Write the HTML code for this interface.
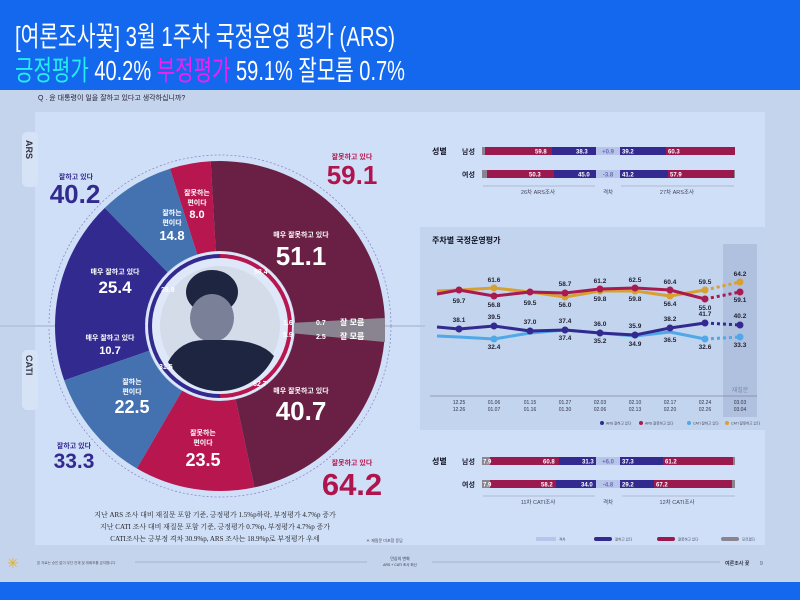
<!DOCTYPE html>
<html><head><meta charset="utf-8"><style>
html,body{margin:0;padding:0;width:800px;height:600px;overflow:hidden;background:#c3d4ec}
svg{display:block;font-family:"Liberation Sans","Noto Sans CJK KR",sans-serif}
</style></head><body>
<svg width="800" height="600" viewBox="0 0 800 600" xmlns="http://www.w3.org/2000/svg">
<rect x="0" y="0" width="800" height="600" fill="#c3d4ec"/>
<rect x="0" y="0" width="800" height="90" fill="#1468ee"/>
<text x="15" y="46" font-size="28" fill="#fff" textLength="380" lengthAdjust="spacingAndGlyphs">[여론조사꽃] 3월 1주차 국정운영 평가 (ARS)</text>
<text x="15" y="80" font-size="28" textLength="390" lengthAdjust="spacingAndGlyphs"><tspan fill="#22eef0">긍정평가</tspan><tspan fill="#fff"> 40.2% </tspan><tspan fill="#f020f0">부정평가</tspan><tspan fill="#fff"> 59.1% 잘모름 0.7%</tspan></text>
<rect x="0" y="582" width="800" height="18" fill="#1468ee"/>
<text x="38" y="100" font-size="7" fill="#223">Q .  윤 대통령이 일을 잘하고 있다고 생각하십니까?</text>
<rect x="35" y="112" width="730" height="433" fill="#cfdff8"/>
<rect x="420" y="227" width="345" height="203" fill="#c2d4ee"/>
<rect x="22" y="132" width="16" height="55" rx="5" fill="#d6e3f7"/>
<text x="0" y="0" font-size="9" font-weight="bold" fill="#334" transform="translate(26,140) rotate(90)">ARS</text>
<rect x="22" y="350" width="16" height="60" rx="5" fill="#d6e3f7"/>
<text x="0" y="0" font-size="9" font-weight="bold" fill="#334" transform="translate(26,355) rotate(90)">CATI</text>
<line x1="0" y1="326" x2="425" y2="326" stroke="#b5c6e0" stroke-width="2"/>
<circle cx="220" cy="326" r="171" fill="none" stroke="#8a7fc0" stroke-width="0.7" stroke-dasharray="2 2"/>
<path d="M55,326 A165,165 0 0 1 104.8,207.9 L167.6,272.3 A75,75 0 0 0 145,326 Z" fill="#332a8f"/>
<path d="M104.8,207.9 A165,165 0 0 1 170,168.8 L197.3,254.5 A75,75 0 0 0 167.6,272.3 Z" fill="#4472b0"/>
<path d="M170,168.8 A165,165 0 0 1 210.7,161.3 L215.8,251.1 A75,75 0 0 0 197.3,254.5 Z" fill="#b8164e"/>
<path d="M210.7,161.3 A165,165 0 0 1 385,322.4 L295,324.3 A75,75 0 0 0 215.8,251.1 Z" fill="#6a1f45"/>
<polygon points="290,323 385,318 385,326 290,326" fill="#8a8490"/>
<path d="M55,326 A165,165 0 0 0 64.2,380.4 L149.2,350.7 A75,75 0 0 1 145,326 Z" fill="#332a8f"/>
<path d="M64.2,380.4 A165,165 0 0 0 136.9,468.5 L182.2,390.8 A75,75 0 0 1 149.2,350.7 Z" fill="#4472b0"/>
<path d="M136.9,468.5 A165,165 0 0 0 254.5,487.4 L235.7,399.3 A75,75 0 0 1 182.2,390.8 Z" fill="#b8164e"/>
<path d="M254.5,487.4 A165,165 0 0 0 384.5,339.5 L294.8,332.1 A75,75 0 0 1 235.7,399.3 Z" fill="#6a1f45"/>
<polygon points="290,326 385,326 385,342 290,333" fill="#8a8490"/>
<line x1="0" y1="326" x2="55" y2="326" stroke="#b5c6e0" stroke-width="2"/>
<circle cx="220" cy="326" r="74" fill="#dfe8f8"/>
<path d="M220,256 A70,70 0 0 0 220,396" fill="none" stroke="#332a8f" stroke-width="4"/>
<path d="M220,256 A70,70 0 0 1 220,396" fill="none" stroke="#b8164e" stroke-width="4"/>
<circle cx="220" cy="326" r="64" fill="#dfe8f8"/>
<circle cx="220" cy="326" r="60" fill="#d4dcea"/>
<ellipse cx="212" cy="292" rx="26" ry="22" fill="#1e2540"/>
<ellipse cx="212" cy="318" rx="22" ry="24" fill="#7a8098"/>
<path d="M168,362 Q180,340 205,340 L225,340 Q260,340 274,356 A60,60 0 0 1 168,362 Z" fill="#1e2540"/>
<text x="254" y="274" font-size="7" fill="#fff" font-weight="bold">58.4</text>
<text x="161" y="292" font-size="7" fill="#fff" font-weight="bold">39.9</text>
<text x="283" y="325" font-size="7" fill="#fff" font-weight="bold">1.6</text>
<text x="283" y="337" font-size="7" fill="#fff" font-weight="bold">5.9</text>
<text x="159" y="369" font-size="7" fill="#fff" font-weight="bold">31.5</text>
<text x="253" y="386" font-size="7" fill="#fff" font-weight="bold">62.7</text>
<text x="316" y="325" font-size="7" fill="#fff" font-weight="bold">0.7</text>
<text x="340" y="325" font-size="8" fill="#fff" font-weight="bold">잘 모름</text>
<text x="316" y="339" font-size="7" fill="#fff" font-weight="bold">2.5</text>
<text x="340" y="339" font-size="8" fill="#fff" font-weight="bold">잘 모름</text>
<g fill="#fff" text-anchor="middle" font-weight="bold">
<text x="172" y="215" font-size="7">잘하는</text><text x="172" y="225" font-size="7">편이다</text><text x="172" y="240" font-size="13">14.8</text>
<text x="197" y="195" font-size="7">잘못하는</text><text x="197" y="205" font-size="7">편이다</text><text x="197" y="218" font-size="11">8.0</text>
<text x="301" y="237" font-size="7">매우 잘못하고 있다</text><text x="301" y="265" font-size="26">51.1</text>
<text x="115" y="274" font-size="7">매우 잘하고 있다</text><text x="115" y="293" font-size="17">25.4</text>
<text x="110" y="340" font-size="7">매우 잘하고 있다</text><text x="110" y="354" font-size="11">10.7</text>
<text x="132" y="384" font-size="7">잘하는</text><text x="132" y="394" font-size="7">편이다</text><text x="132" y="413" font-size="18">22.5</text>
<text x="203" y="435" font-size="7">잘못하는</text><text x="203" y="445" font-size="7">편이다</text><text x="203" y="466" font-size="18">23.5</text>
<text x="301" y="393" font-size="7">매우 잘못하고 있다</text><text x="301" y="420" font-size="26">40.7</text>
</g>
<g text-anchor="middle" font-weight="bold">
<text x="76" y="179" font-size="7" fill="#332a8f">잘하고 있다</text>
<text x="75" y="203" font-size="26" fill="#332a8f">40.2</text>
<text x="352" y="159" font-size="7" fill="#b8164e">잘못하고 있다</text>
<text x="352" y="184" font-size="26" fill="#b0144c">59.1</text>
<text x="74" y="448" font-size="7" fill="#332a8f">잘하고 있다</text>
<text x="74" y="468" font-size="21" fill="#332a8f">33.3</text>
<text x="352" y="465" font-size="7" fill="#b8164e">잘못하고 있다</text>
<text x="352" y="495" font-size="31" fill="#b0144c">64.2</text>
</g>
<g font-size="7" fill="#222" text-anchor="middle" font-family="Liberation Serif, Noto Serif CJK SC, serif">
<text x="215" y="517">지난 ARS 조사 대비 재질문 포함 기준, 긍정평가 1.5%p하락, 부정평가 4.7%p 증가</text>
<text x="215" y="529">지난 CATI 조사 대비 재질문 포함 기준, 긍정평가 0.7%p, 부정평가 4.7%p 증가</text>
<text x="215" y="541">CATI조사는 긍부정 격차 30.9%p, ARS 조사는 18.9%p로 부정평가 우세</text>
</g>
<text x="366" y="542" font-size="4" fill="#445">＊ 재질문 미포함 응답</text>
<g font-size="7" font-weight="bold">
<text x="432" y="154" font-size="8" fill="#112">성별</text>
<text x="462" y="154" fill="#223">남성</text>
<text x="462" y="177" fill="#223">여성</text>
<rect x="482" y="147" width="3" height="8" fill="#8a8490"/>
<rect x="485" y="147" width="67" height="8" fill="#9a1a50"/>
<rect x="552" y="147" width="44" height="8" fill="#332a8f"/>
<rect x="596" y="147" width="24" height="8" fill="#b8c4ea"/>
<rect x="620" y="147" width="46" height="8" fill="#332a8f"/>
<rect x="666" y="147" width="69" height="8" fill="#9a1a50"/>
<rect x="482" y="170" width="5" height="8" fill="#8a8490"/>
<rect x="487" y="170" width="67" height="8" fill="#9a1a50"/>
<rect x="554" y="170" width="42" height="8" fill="#332a8f"/>
<rect x="596" y="170" width="24" height="8" fill="#b8c4ea"/>
<rect x="620" y="170" width="48" height="8" fill="#332a8f"/>
<rect x="668" y="170" width="66" height="8" fill="#9a1a50"/>
<rect x="734" y="170" width="1" height="8" fill="#8a8490"/>
<g font-size="6" fill="#fff">
<text x="535" y="153.5">59.8</text><text x="576" y="153.5">38.3</text><text x="622" y="153.5">39.2</text><text x="668" y="153.5">60.3</text>
<text x="529" y="176.5">50.3</text><text x="578" y="176.5">45.0</text><text x="622" y="176.5">41.2</text><text x="670" y="176.5">57.9</text>
</g>
<text x="608" y="153.5" font-size="6" fill="#6a70b0" text-anchor="middle">+0.9</text>
<text x="608" y="176.5" font-size="6" fill="#6a70b0" text-anchor="middle">-3.8</text>
</g>
<line x1="483" y1="186" x2="595" y2="186" stroke="#8a96b0" stroke-width="0.6"/>
<line x1="621" y1="186" x2="734" y2="186" stroke="#8a96b0" stroke-width="0.6"/>
<g font-size="5.5" fill="#445" text-anchor="middle"><text x="538" y="194">26차 ARS조사</text><text x="608" y="194">격차</text><text x="677" y="194">27차 ARS조사</text></g>
<text x="432" y="243" font-size="8" font-weight="bold" fill="#112">주차별 국정운영평가</text>
<rect x="723" y="244" width="34" height="173" fill="#b0c1e0"/>
<text x="740" y="392" font-size="6" fill="#7a88a8" text-anchor="middle">재질문</text>
<line x1="430" y1="396" x2="757" y2="396" stroke="#667" stroke-width="0.6"/>
<g fill="none" stroke-width="3" stroke-linejoin="round">
<polyline stroke="#d8a030" points="437,291 459,290 494,288 530,292 565,297 600,291 635,291 670,296 705,290"/>
<polyline stroke="#a81a50" points="437,294 459,290 494,296 530,292 565,293 600,289 635,288 670,290 705,299"/>
<polyline stroke="#50a8e8" points="437,336 459,337 494,339 530,333 565,330 600,333 635,336 670,332 705,339"/>
<polyline stroke="#332a8f" points="437,327 459,329 494,326 530,331 565,330 600,333 635,335 670,328 705,323"/>
<g stroke-dasharray="3 3">
<line x1="705" y1="290" x2="740" y2="282" stroke="#d8a030"/>
<line x1="705" y1="299" x2="740" y2="292" stroke="#a81a50"/>
<line x1="705" y1="339" x2="740" y2="337" stroke="#50a8e8"/>
<line x1="705" y1="323" x2="740" y2="325" stroke="#332a8f"/>
</g></g>
<g fill="#d8a030"><circle cx="494" cy="288" r="3.5"/><circle cx="565" cy="297" r="3.5"/><circle cx="600" cy="291" r="3.5"/><circle cx="635" cy="291" r="3.5"/><circle cx="670" cy="296" r="3.5"/><circle cx="705" cy="290" r="3.5"/><circle cx="740" cy="282" r="3.5"/></g>
<g fill="#a81a50"><circle cx="459" cy="290" r="3.5"/><circle cx="494" cy="296" r="3.5"/><circle cx="530" cy="292" r="3.5"/><circle cx="565" cy="293" r="3.5"/><circle cx="600" cy="289" r="3.5"/><circle cx="635" cy="288" r="3.5"/><circle cx="670" cy="290" r="3.5"/><circle cx="705" cy="299" r="3.5"/><circle cx="740" cy="292" r="3.5"/></g>
<g fill="#50a8e8"><circle cx="494" cy="339" r="3.5"/><circle cx="705" cy="339" r="3.5"/><circle cx="740" cy="337" r="3.5"/></g>
<g fill="#332a8f"><circle cx="459" cy="329" r="3.5"/><circle cx="494" cy="326" r="3.5"/><circle cx="530" cy="331" r="3.5"/><circle cx="565" cy="330" r="3.5"/><circle cx="600" cy="333" r="3.5"/><circle cx="635" cy="335" r="3.5"/><circle cx="670" cy="328" r="3.5"/><circle cx="705" cy="323" r="3.5"/><circle cx="740" cy="325" r="3.5"/></g>
<g font-size="6.5" font-weight="bold" fill="#223" text-anchor="middle">
<text x="459" y="303">59.7</text><text x="494" y="307">56.8</text><text x="530" y="305">59.5</text><text x="565" y="286">58.7</text><text x="600" y="283">61.2</text><text x="635" y="282">62.5</text><text x="670" y="284">60.4</text><text x="705" y="310">55.0</text><text x="740" y="302">59.1</text>
<text x="494" y="282">61.6</text><text x="565" y="307">56.0</text><text x="600" y="301">59.8</text><text x="635" y="301">59.8</text><text x="670" y="306">56.4</text><text x="705" y="284">59.5</text><text x="740" y="276">64.2</text>
<text x="459" y="322">38.1</text><text x="494" y="319">39.5</text><text x="530" y="324">37.0</text><text x="565" y="323">37.4</text><text x="600" y="326">36.0</text><text x="635" y="328">35.9</text><text x="670" y="321">38.2</text><text x="705" y="316">41.7</text><text x="740" y="318">40.2</text>
<text x="494" y="349">32.4</text><text x="565" y="340">37.4</text><text x="600" y="343">35.2</text><text x="635" y="346">34.9</text><text x="670" y="342">36.5</text><text x="705" y="349">32.6</text><text x="740" y="347">33.3</text>
</g>
<g font-size="5" fill="#334" text-anchor="middle">
<text x="459" y="404">12.25</text><text x="459" y="411">12.26</text>
<text x="494" y="404">01.06</text><text x="494" y="411">01.07</text>
<text x="530" y="404">01.15</text><text x="530" y="411">01.16</text>
<text x="565" y="404">01.27</text><text x="565" y="411">01.30</text>
<text x="600" y="404">02.03</text><text x="600" y="411">02.06</text>
<text x="635" y="404">02.10</text><text x="635" y="411">02.13</text>
<text x="670" y="404">02.17</text><text x="670" y="411">02.20</text>
<text x="705" y="404">02.24</text><text x="705" y="411">02.26</text>
<text x="740" y="404">03.03</text><text x="740" y="411">03.04</text>
</g>
<g font-size="3.5" fill="#445">
<circle cx="602" cy="423" r="2" fill="#332a8f"/><text x="606" y="424.5">ARS 잘하고 있다</text>
<circle cx="641" cy="423" r="2" fill="#a81a50"/><text x="645" y="424.5">ARS 잘못하고 있다</text>
<circle cx="689" cy="423" r="2" fill="#50a8e8"/><text x="693" y="424.5">CATI 잘하고 있다</text>
<circle cx="727" cy="423" r="2" fill="#d8a030"/><text x="731" y="424.5">CATI 잘못하고 있다</text>
</g>
<g font-size="7" font-weight="bold">
<text x="432" y="464" font-size="8" fill="#112">성별</text>
<text x="462" y="464" fill="#223">남성</text>
<text x="462" y="487" fill="#223">여성</text>
<rect x="482" y="457" width="8" height="8" fill="#8a8490"/>
<rect x="490" y="457" width="69" height="8" fill="#9a1a50"/>
<rect x="559" y="457" width="37" height="8" fill="#332a8f"/>
<rect x="596" y="457" width="24" height="8" fill="#b8c4ea"/>
<rect x="620" y="457" width="43" height="8" fill="#332a8f"/>
<rect x="663" y="457" width="70" height="8" fill="#9a1a50"/>
<rect x="733" y="457" width="2" height="8" fill="#8a8490"/>
<rect x="482" y="480" width="8" height="8" fill="#8a8490"/>
<rect x="490" y="480" width="66" height="8" fill="#9a1a50"/>
<rect x="556" y="480" width="40" height="8" fill="#332a8f"/>
<rect x="596" y="480" width="24" height="8" fill="#b8c4ea"/>
<rect x="620" y="480" width="34" height="8" fill="#332a8f"/>
<rect x="654" y="480" width="78" height="8" fill="#9a1a50"/>
<rect x="732" y="480" width="3" height="8" fill="#8a8490"/>
<g font-size="6" fill="#fff">
<text x="483" y="463.5">7.9</text><text x="543" y="463.5">60.8</text><text x="582" y="463.5">31.3</text><text x="622" y="463.5">37.3</text><text x="665" y="463.5">61.2</text>
<text x="483" y="486.5">7.9</text><text x="541" y="486.5">58.2</text><text x="581" y="486.5">34.0</text><text x="622" y="486.5">29.2</text><text x="656" y="486.5">67.2</text>
</g>
<text x="608" y="463.5" font-size="6" fill="#6a70b0" text-anchor="middle">+6.0</text>
<text x="608" y="486.5" font-size="6" fill="#6a70b0" text-anchor="middle">-4.8</text>
</g>
<line x1="483" y1="496" x2="595" y2="496" stroke="#8a96b0" stroke-width="0.6"/>
<line x1="622" y1="496" x2="735" y2="496" stroke="#8a96b0" stroke-width="0.6"/>
<g font-size="5.5" fill="#445" text-anchor="middle"><text x="538" y="504">11차 CATI조사</text><text x="608" y="504">격차</text><text x="677" y="504">12차 CATI조사</text></g>
<g font-size="3.5" fill="#445">
<rect x="536" y="537" width="20" height="4" fill="#b8c4ea"/><text x="559" y="540.5">격차</text>
<rect x="594" y="537" width="18" height="4" rx="2" fill="#332a8f"/><text x="615" y="540.5">잘하고 있다</text>
<rect x="657" y="537" width="18" height="4" rx="2" fill="#9a1a50"/><text x="678" y="540.5">잘못하고 있다</text>
<rect x="721" y="537" width="18" height="4" rx="2" fill="#8a8490"/><text x="742" y="540.5">모르겠다</text>
</g>
<text x="7" y="568" font-size="14" fill="#e0b030">✳</text>
<text x="37" y="564" font-size="3.5" fill="#556">본 자료는 승인 없이 무단 전재 및 재배포를 금지합니다</text>
<line x1="135" y1="562" x2="367" y2="562" stroke="#8a96b0" stroke-width="0.6"/>
<line x1="432" y1="562" x2="720" y2="562" stroke="#8a96b0" stroke-width="0.6"/>
<text x="400" y="560" font-size="4" fill="#334" text-anchor="middle">민심의 변화</text>
<text x="400" y="566" font-size="3.5" fill="#334" text-anchor="middle">ARS + CATI 조사 최신</text>
<text x="725" y="565" font-size="5" font-weight="bold" fill="#334">여론조사 꽃</text>
<text x="760" y="565" font-size="5" fill="#556">9</text>
</svg>
</body></html>
